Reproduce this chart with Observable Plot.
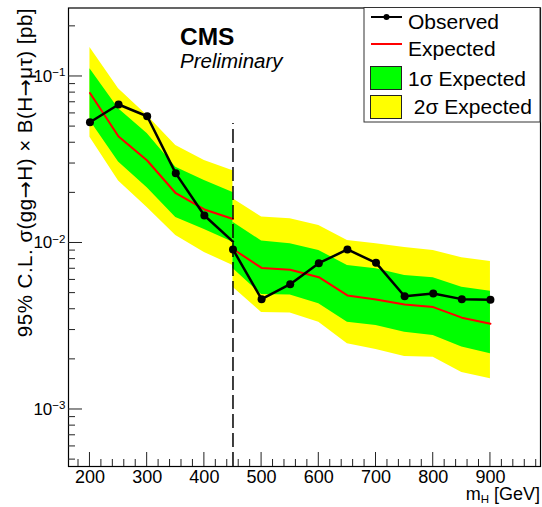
<!DOCTYPE html>
<html><head><meta charset="utf-8">
<script src="https://cdn.jsdelivr.net/npm/d3@7"></script>
<script src="https://cdn.jsdelivr.net/npm/@observablehq/plot@0.6"></script>
<style>
body{margin:0;background:#fff;font-family:"Liberation Sans",Arial,Helvetica,sans-serif;}
#wrap{position:relative;width:542px;height:507px;overflow:hidden;}
</style></head><body><div id="wrap"></div>
<script>
// ---- data (m_H in GeV, limits in pb) ----
const massLow      = [200, 250, 300, 350, 400, 450];
const observedLow  = [0.0531, 0.0679, 0.0577, 0.0262, 0.01463, 0.0102];
const expectedLow  = [0.0796, 0.0436, 0.0313, 0.0199, 0.0159, 0.01393];
const plus1Low     = [0.1112, 0.0640, 0.0455, 0.0285, 0.0237, 0.0201];
const minus1Low    = [0.0544, 0.0306, 0.0215, 0.01423, 0.01206, 0.01011];
const plus2Low     = [0.1493, 0.0844, 0.0583, 0.0385, 0.0313, 0.0272];
const minus2Low    = [0.0432, 0.0236, 0.01634, 0.01109, 0.00877, 0.00733];

const massHigh     = [450, 500, 550, 600, 650, 700, 750, 800, 850, 900];
const observedHigh = [0.00914, 0.0046, 0.00566, 0.00756, 0.00914, 0.0076, 0.00479, 0.00497, 0.0046, 0.00456];
const expectedHigh = [0.0092, 0.00708, 0.0069, 0.00623, 0.00484, 0.00458, 0.00427, 0.00412, 0.00356, 0.00327];
const plus1High    = [0.01333, 0.01028, 0.00989, 0.00902, 0.00733, 0.0070, 0.00638, 0.00618, 0.00543, 0.00513];
const minus1High   = [0.00703, 0.0049, 0.00487, 0.00431, 0.00334, 0.0032, 0.00291, 0.00278, 0.00237, 0.00216];
const plus2High    = [0.01843, 0.01433, 0.01397, 0.01274, 0.01035, 0.00989, 0.0094, 0.00902, 0.00815, 0.00774];
const minus2High   = [0.00543, 0.00382, 0.0038, 0.00334, 0.00248, 0.00229, 0.00208, 0.00206, 0.00167, 0.00153];

const boundaryMass = [450];
const boundaryTop  = 0.0522;

const xMajorTicks = [200, 300, 400, 500, 600, 700, 800, 900];
const yMajorTicks = [0.001, 0.01, 0.1];

const xDomain = [162.5, 987.5];
const yDomain = [4.546e-4, 0.2578];

const legendLabels = ["Observed", "Expected", "1σ Expected", " 2σ Expected"];

// ---- derived tables ----
const lowTable = massLow.map((m, i) => ({m, obs: observedLow[i], exp: expectedLow[i],
  p1: plus1Low[i], m1: minus1Low[i], p2: plus2Low[i], m2: minus2Low[i]}));
const highTable = massHigh.map((m, i) => ({m, obs: observedHigh[i], exp: expectedHigh[i],
  p1: plus1High[i], m1: minus1High[i], p2: plus2High[i], m2: minus2High[i]}));

const xMinorTicks = [];
for (let v = 180; v <= xDomain[1]; v += 20) if (v % 100 !== 0) xMinorTicks.push(v);
const yMinorTicks = [];
for (const dec of [1e-4, 1e-3, 1e-2, 1e-1]) for (let k = 2; k <= 9; k++) {
  const v = k * dec; if (v >= yDomain[0] && v <= yDomain[1]) yMinorTicks.push(v);
}

const YELLOW = "#ffff00", GREEN = "#00ff00", RED = "#ff0000";
const W = 542, H = 507, ML = 68, MR = 2, MT = 7.5, MB = 41;

const plot = Plot.plot({
  width: W, height: H,
  marginLeft: ML, marginRight: MR, marginTop: MT, marginBottom: MB,
  style: {fontFamily: '"Liberation Sans", Arial, sans-serif', fontSize: "18px", background: "#fff", color: "#000"},
  x: {domain: xDomain},
  y: {type: "log", domain: yDomain},
  marks: [
    Plot.areaY(lowTable,  {x: "m", y1: "m2", y2: "p2", fill: YELLOW}),
    Plot.areaY(highTable, {x: "m", y1: "m2", y2: "p2", fill: YELLOW}),
    Plot.areaY(lowTable,  {x: "m", y1: "m1", y2: "p1", fill: GREEN}),
    Plot.areaY(highTable, {x: "m", y1: "m1", y2: "p1", fill: GREEN}),
    Plot.lineY(lowTable,  {x: "m", y: "exp", stroke: RED, strokeWidth: 2}),
    Plot.lineY(highTable, {x: "m", y: "exp", stroke: RED, strokeWidth: 2}),
    Plot.ruleX(boundaryMass, {y1: yDomain[0], y2: boundaryTop, stroke: "#000", strokeWidth: 1.5, strokeDasharray: "14,5"}),
    Plot.lineY(lowTable,  {x: "m", y: "obs", stroke: "#000", strokeWidth: 2.5}),
    Plot.lineY(highTable, {x: "m", y: "obs", stroke: "#000", strokeWidth: 2.5}),
    Plot.dot(lowTable.slice(0, lowTable.length - 1), {x: "m", y: "obs", r: 4, fill: "#000"}),
    Plot.dot(highTable, {x: "m", y: "obs", r: 4, fill: "#000"}),
    Plot.frame({stroke: "#000", strokeWidth: 1.2}),
    Plot.axisX(xMajorTicks, {anchor: "bottom", tickSize: 0, tickPadding: 4, fontSize: 18, label: null, tickFormat: d => String(d)}),
    Plot.axisY(yMajorTicks, {anchor: "left", tickSize: 0, tickPadding: 3, fontSize: 17, label: null,
      tickFormat: d => "10^−" + Math.abs(Math.round(Math.log10(d)))})
  ]
});

// superscript exponents for the log tick labels
d3.select(plot).selectAll("text").each(function () {
  const t = d3.select(this);
  if (t.selectAll("tspan").size() > 0) return;
  const s = t.text();
  if (s.indexOf("^") < 0) return;
  const [b, e] = s.split("^");
  t.text(null);
  t.append("tspan").text(b);
  t.append("tspan").attr("dy", "-0.5em").attr("font-size", "0.68em").text(e);
});

const svg = d3.select(plot);
const sx = plot.scale("x"), sy = plot.scale("y");
const bottom = H - MB;

// inward ticks drawn from the library's scales
const tk = svg.append("g").attr("stroke", "#222").attr("stroke-width", 1);
xMajorTicks.forEach(v => tk.append("line").attr("x1", sx.apply(v)).attr("x2", sx.apply(v)).attr("y1", bottom).attr("y2", bottom - 14));
xMinorTicks.forEach(v => tk.append("line").attr("x1", sx.apply(v)).attr("x2", sx.apply(v)).attr("y1", bottom).attr("y2", bottom - 7));
yMajorTicks.forEach(v => tk.append("line").attr("y1", sy.apply(v)).attr("y2", sy.apply(v)).attr("x1", ML).attr("x2", ML + 14));
yMinorTicks.forEach(v => tk.append("line").attr("y1", sy.apply(v)).attr("y2", sy.apply(v)).attr("x1", ML).attr("x2", ML + 7));

// y-axis title (arrows from DejaVu for a ROOT-like long arrow)
const yt = svg.append("text")
  .attr("transform", "translate(32,8) rotate(-90)")
  .attr("text-anchor", "end")
  .attr("font-size", 20.5)
  .attr("letter-spacing", 0.5)
  .attr("xml:space", "preserve").style("white-space", "pre");
const parts = ["95% C.L. σ(gg", "→", "H) × B(H", "→", "μτ) [pb]"];
parts.forEach(p => {
  const ts = yt.append("tspan").text(p);
  if (p === "→") ts.attr("font-family", '"DejaVu Sans", sans-serif');
});
// x-axis title
const xt = svg.append("text").attr("x", 540).attr("y", 500).attr("text-anchor", "end").attr("font-size", 18);
xt.append("tspan").text("m");
xt.append("tspan").attr("font-size", 11.5).attr("dy", 3).text("H");
xt.append("tspan").attr("dy", -3).text(" [GeV]");

// CMS Preliminary
svg.append("text").attr("x", 180).attr("y", 45).attr("text-anchor", "start").attr("font-size", 24.5).attr("font-weight", "bold").text("CMS");
svg.append("text").attr("x", 180).attr("y", 67.5).attr("text-anchor", "start").attr("font-size", 20.5).attr("font-style", "italic").text("Preliminary");

// legend
const lg = svg.append("g").attr("transform", "translate(364,7.5)");
lg.append("rect").attr("width", 176).attr("height", 114.5).attr("fill", "#fff").attr("stroke", "#333").attr("stroke-width", 1);
lg.append("line").attr("x1", 7).attr("x2", 38).attr("y1", 9.5).attr("y2", 9.5).attr("stroke", "#000").attr("stroke-width", 2);
lg.append("circle").attr("cx", 22.5).attr("cy", 9.5).attr("r", 3).attr("fill", "#000");
lg.append("line").attr("x1", 7).attr("x2", 38).attr("y1", 36.5).attr("y2", 36.5).attr("stroke", RED).attr("stroke-width", 2);
lg.append("rect").attr("x", 6.5).attr("y", 59).attr("width", 31).attr("height", 23).attr("fill", GREEN).attr("stroke", "#222").attr("stroke-width", 1);
lg.append("rect").attr("x", 6.5).attr("y", 88).attr("width", 31).attr("height", 23).attr("fill", YELLOW).attr("stroke", "#222").attr("stroke-width", 1);
const lgY = [21, 48, 78.5, 106];
legendLabels.forEach((s, i) => {
  lg.append("text").attr("x", 44).attr("y", lgY[i]).attr("text-anchor", "start").attr("font-size", 21)
    .attr("xml:space", "preserve").style("white-space", "pre").text(s);
});

document.getElementById("wrap").appendChild(plot);
</script></body></html>
